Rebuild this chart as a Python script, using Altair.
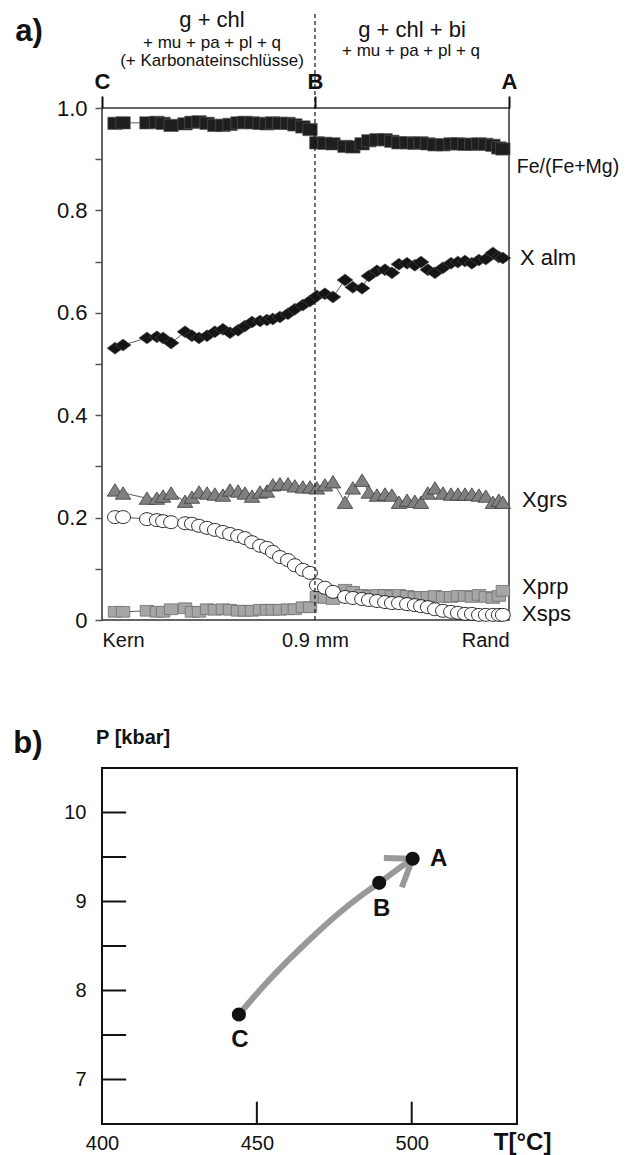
import altair as alt
import pandas as pd

FONT = "Liberation Sans, Arial, Helvetica, sans-serif"

# ---------------- panel a: zoning profile (distance in µm from core) -------------
pos_um = [55, 89, 190, 232, 258, 292, 351, 380, 410, 444, 477, 511, 541, 575, 604,
          634, 668, 697, 722, 752, 786, 815, 849, 879, 908, 942, 976, 1027, 1060, 1099,
          1128, 1162, 1196, 1225, 1255, 1289, 1322, 1348, 1377, 1407, 1441, 1475, 1504,
          1534, 1563, 1593, 1622, 1652, 1677, 1694]

fe_mg = [0.970, 0.971, 0.971, 0.972, 0.970, 0.966, 0.969, 0.972, 0.973, 0.970, 0.966, 0.966,
         0.968, 0.971, 0.972, 0.971, 0.970, 0.969, 0.971, 0.970, 0.970, 0.967, 0.963, 0.958,
         0.932, 0.931, 0.930, 0.925, 0.924, 0.930, 0.936, 0.938, 0.938, 0.935, 0.932, 0.932,
         0.931, 0.932, 0.930, 0.928, 0.928, 0.930, 0.930, 0.929, 0.929, 0.930, 0.929, 0.927,
         0.922, 0.920]
x_alm = [0.531, 0.537, 0.551, 0.553, 0.551, 0.541, 0.563, 0.555, 0.551, 0.555, 0.563, 0.568,
         0.561, 0.566, 0.574, 0.582, 0.584, 0.586, 0.588, 0.592, 0.598, 0.607, 0.615, 0.623,
         0.633, 0.637, 0.631, 0.664, 0.650, 0.648, 0.672, 0.682, 0.684, 0.678, 0.695, 0.697,
         0.693, 0.699, 0.684, 0.678, 0.688, 0.697, 0.699, 0.701, 0.697, 0.703, 0.705, 0.717,
         0.709, 0.707]
x_grs = [0.254, 0.248, 0.238, 0.238, 0.242, 0.248, 0.232, 0.240, 0.250, 0.248, 0.246, 0.244,
         0.254, 0.252, 0.248, 0.242, 0.250, 0.252, 0.264, 0.266, 0.266, 0.262, 0.260, 0.260,
         0.258, 0.264, 0.270, 0.230, 0.258, 0.273, 0.250, 0.244, 0.246, 0.244, 0.230, 0.234,
         0.232, 0.230, 0.248, 0.258, 0.248, 0.246, 0.246, 0.246, 0.246, 0.244, 0.242, 0.230,
         0.234, 0.230]
x_prp = [0.016, 0.016, 0.018, 0.016, 0.016, 0.021, 0.023, 0.016, 0.016, 0.021, 0.020, 0.021,
         0.020, 0.018, 0.018, 0.018, 0.020, 0.020, 0.020, 0.020, 0.021, 0.021, 0.025, 0.025,
         0.045, 0.043, 0.041, 0.059, 0.055, 0.049, 0.047, 0.049, 0.049, 0.047, 0.049, 0.047,
         0.045, 0.045, 0.045, 0.047, 0.045, 0.045, 0.047, 0.047, 0.045, 0.049, 0.045, 0.043,
         0.047, 0.057]
x_sps = [0.201, 0.201, 0.197, 0.195, 0.193, 0.191, 0.189, 0.188, 0.184, 0.180, 0.176, 0.172,
         0.168, 0.164, 0.160, 0.152, 0.145, 0.141, 0.133, 0.123, 0.117, 0.107, 0.098, 0.092,
         0.068, 0.063, 0.055, 0.045, 0.043, 0.041, 0.039, 0.037, 0.035, 0.033, 0.033, 0.031,
         0.029, 0.027, 0.025, 0.021, 0.018, 0.016, 0.014, 0.012, 0.012, 0.010, 0.010, 0.010,
         0.010, 0.010]

series_names = ["Fe/(Fe+Mg)", "X alm", "Xgrs", "Xprp", "Xsps"]
series_vals = [fe_mg, x_alm, x_grs, x_prp, x_sps]

top_ticks = [0, 900, 1720]
y_ticks = [0, 0.1, 0.2, 0.3, 0.4, 0.5, 0.6, 0.7, 0.8, 0.9, 1.0]

header_text = ["g + chl", "+ mu + pa + pl + q", "(+ Karbonateinschlüsse)",
               "g + chl + bi", "+ mu + pa + pl + q"]
header_x = [465, 465, 465, 1310, 1306]
header_y = [1.172, 1.127, 1.092, 1.152, 1.111]
header_fs = [22, 17, 17, 22, 17]

label_x = [1753, 1766, 1775, 1775, 1775]
label_y = [0.885, 0.707, 0.234, 0.064, 0.012]
label_fs = [19.5, 22, 22, 22, 22]

rows = []
for name, vals in zip(series_names, series_vals):
    for i, (p, v) in enumerate(zip(pos_um, vals)):
        rows.append({"series": name, "i": i, "pos": p, "val": v})
df = pd.DataFrame(rows)

XS = alt.Scale(domain=[0, 1720], nice=False, zero=False)
YS = alt.Scale(domain=[0, 1.0], nice=False, zero=False)

RECT_FE = "M-1,-0.85L1,-0.85L1,0.85L-1,0.85Z"
RECT = "M-1,-0.8L1,-0.8L1,0.8L-1,0.8Z"
DIAM = "M-1,0L0,-0.75L1,0L0,0.75Z"
TRI = "M0,-0.8L1,0.8L-1,0.8Z"
ELL = "M-1,0A1,0.87,0,1,1,1,0A1,0.87,0,1,1,-1,0Z"

styles = {
    "Fe/(Fe+Mg)": dict(shape=RECT_FE, size=210, fill="#1e1e1e", stroke="#5a5a5a", strokeWidth=0.6),
    "X alm": dict(shape=DIAM, size=256, fill="#151515", stroke="#555555", strokeWidth=0.5),
    "Xgrs": dict(shape=TRI, size=240, fill="#808080", stroke="#3c3c3c", strokeWidth=0.8),
    "Xprp": dict(shape=RECT, size=180, fill="#a6a6a6", stroke="#6e6e6e", strokeWidth=0.8),
    "Xsps": dict(shape=ELL, size=220, fill="#ffffff", stroke="#111111", strokeWidth=0.9),
}

y_label_expr = ("datum.value == 0 ? '0' : (round(datum.value*10) % 2 == 0 ? "
                "format(datum.value, '.1f') : '')")
bottom_expr = "datum.value == 0 ? 'Kern' : (datum.value == 900 ? '0.9 mm' : 'Rand')"
top_expr = "datum.value == 0 ? 'C' : (datum.value == 900 ? 'B' : 'A')"

lines = alt.Chart(df).mark_line(color="#333333", strokeWidth=0.8).encode(
    x=alt.X("pos:Q", scale=XS, axis=alt.Axis(
        orient="bottom", values=top_ticks, labelExpr=bottom_expr, labelFlush=True,
        ticks=False, domain=False, labelFontSize=20, labelPadding=10, labelColor="#111",
        labelFont=FONT, title=None, grid=False)),
    y=alt.Y("val:Q", scale=YS, axis=alt.Axis(
        orient="left", values=y_ticks, labelExpr=y_label_expr, tickSize=7, tickColor="#555",
        tickWidth=1.5, labelPadding=8, labelFontSize=22, domain=False, title=None,
        labelFont=FONT, labelColor="#111", grid=False)),
    detail="series:N",
    order="i:Q",
)

point_layers = []
for k, name in enumerate(series_names):
    st = styles[name]
    if k == 0:
        xax = alt.Axis(orient="top", values=top_ticks, labelExpr=top_expr, labelFlush=False,
                       labelFontWeight="bold", labelFontSize=22, labelFont=FONT,
                       labelColor="#111", tickSize=12, tickWidth=2, tickColor="#111",
                       domain=False, labelPadding=3, title=None, grid=False)
    else:
        xax = None
    pl = alt.Chart(df[df.series == name]).mark_point(
        filled=True, opacity=1, shape=st["shape"], size=st["size"], fill=st["fill"],
        stroke=st["stroke"], strokeWidth=st["strokeWidth"], strokeOpacity=1, fillOpacity=1
    ).encode(
        x=alt.X("pos:Q", scale=XS, axis=xax),
        y=alt.Y("val:Q", scale=YS, axis=None),
    )
    point_layers.append(pl)

rule_df = pd.DataFrame({"b": [900], "y0": [0.0], "y1": [1.187]})
rule = alt.Chart(rule_df).mark_rule(strokeDash=[4, 3], color="#111", strokeWidth=1.2).encode(
    x=alt.X("b:Q", scale=XS, axis=None),
    y=alt.Y("y0:Q", scale=YS, axis=None),
    y2="y1:Q",
)

hdr_df = pd.DataFrame({"t": header_text, "x": header_x, "y": header_y, "fs": header_fs})
headers = alt.Chart(hdr_df).mark_text(font=FONT, color="#111", align="center",
                                      baseline="middle").encode(
    x=alt.X("x:Q", scale=XS, axis=None),
    y=alt.Y("y:Q", scale=YS, axis=None),
    text="t:N",
    size=alt.Size("fs:Q", scale=None),
)

lab_df = pd.DataFrame({"t": series_names, "x": label_x, "y": label_y, "fs": label_fs})
labels = alt.Chart(lab_df).mark_text(font=FONT, color="#111", align="left",
                                     baseline="middle").encode(
    x=alt.X("x:Q", scale=XS, axis=None),
    y=alt.Y("y:Q", scale=YS, axis=None),
    text="t:N",
    size=alt.Size("fs:Q", scale=None),
)

tag_a = alt.Chart(pd.DataFrame({"t": ["a)"], "x": [-308], "y": [1.148]})).mark_text(
    font=FONT, fontWeight="bold", fontSize=31, color="#111", align="center", baseline="middle"
).encode(
    x=alt.X("x:Q", scale=XS, axis=None),
    y=alt.Y("y:Q", scale=YS, axis=None),
    text="t:N",
)

panel_a = alt.layer(lines, *point_layers, rule, headers, labels, tag_a).resolve_axis(
    x="independent", y="independent"
).properties(width=407, height=512,
             view=alt.ViewBackground(stroke="#333333", strokeWidth=1.5))

# ---------------- panel b: P-T path -------------
path_T = [444.2, 452.2, 460.2, 468.2, 476.2, 484.2, 489.5, 495.0, 500.3]
path_P = [7.73, 8.05, 8.34, 8.61, 8.86, 9.08, 9.21, 9.35, 9.48]
arrow_seg = [1, 1, 2, 2]
arrow_T = [500.3, 491.0, 500.3, 496.8]
arrow_P = [9.48, 9.49, 9.48, 9.16]
stage = ["C", "B", "A"]
stage_T = [444.2, 489.5, 500.3]
stage_P = [7.73, 9.21, 9.48]
stage_lab_T = [444.5, 490.3, 508.7]
stage_lab_P = [7.44, 8.92, 9.48]
p_ticks = [7, 7.5, 8, 8.5, 9, 9.5, 10]
p_labels = [7, 8, 9, 10]
t_ticks = [450, 500]
t_labels = [400, 450, 500]

XB = alt.Scale(domain=[400, 534], nice=False, zero=False)
YB = alt.Scale(domain=[6.5, 10.5], nice=False, zero=False)

path_df = pd.DataFrame({"T": path_T, "P": path_P, "o": list(range(len(path_T)))})
curve = alt.Chart(path_df).mark_line(interpolate="monotone", color="#999999",
                                     strokeWidth=6).encode(
    x=alt.X("T:Q", scale=XB, axis=alt.Axis(
        orient="bottom", values=t_labels, ticks=False, domain=False, labelFontSize=20,
        labelPadding=9, labelFlush=False, labelFont=FONT, labelColor="#111", title=None,
        grid=False)),
    y=alt.Y("P:Q", scale=YB, axis=alt.Axis(
        orient="left", values=p_labels, ticks=False, domain=False, labelFontSize=20,
        labelPadding=16, labelFont=FONT, labelColor="#111", title=None, grid=False)),
    order="o:Q",
)

arrow_df = pd.DataFrame({"seg": arrow_seg, "T": arrow_T, "P": arrow_P})
arrow = alt.Chart(arrow_df).mark_line(color="#999999", strokeWidth=6).encode(
    x=alt.X("T:Q", scale=XB, axis=None),
    y=alt.Y("P:Q", scale=YB, axis=None),
    detail="seg:N",
)

ytick_df = pd.DataFrame({"P": p_ticks, "x0": [400] * len(p_ticks), "x1": [407.8] * len(p_ticks)})
yticks = alt.Chart(ytick_df).mark_rule(color="#111", strokeWidth=2).encode(
    x=alt.X("x0:Q", scale=XB, axis=None), x2="x1:Q",
    y=alt.Y("P:Q", scale=YB, axis=None),
)
xtick_df = pd.DataFrame({"T": t_ticks, "y0": [6.5] * len(t_ticks), "y1": [6.75] * len(t_ticks)})
xticks = alt.Chart(xtick_df).mark_rule(color="#111", strokeWidth=2).encode(
    x=alt.X("T:Q", scale=XB, axis=None),
    y=alt.Y("y0:Q", scale=YB, axis=None), y2="y1:Q",
)

dots = alt.Chart(pd.DataFrame({"T": stage_T, "P": stage_P})).mark_circle(
    size=200, color="#111", opacity=1).encode(
    x=alt.X("T:Q", scale=XB, axis=None),
    y=alt.Y("P:Q", scale=YB, axis=None),
)
dot_labels = alt.Chart(pd.DataFrame({"t": stage, "T": stage_lab_T, "P": stage_lab_P})).mark_text(
    font=FONT, fontWeight="bold", fontSize=24, color="#111", align="center", baseline="middle"
).encode(
    x=alt.X("T:Q", scale=XB, axis=None),
    y=alt.Y("P:Q", scale=YB, axis=None),
    text="t:N",
)

ptitle = alt.Chart(pd.DataFrame({"t": ["P [kbar]"], "T": [398.1], "P": [10.84]})).mark_text(
    font=FONT, fontWeight="bold", fontSize=20, color="#111", align="left", baseline="middle"
).encode(x=alt.X("T:Q", scale=XB, axis=None), y=alt.Y("P:Q", scale=YB, axis=None), text="t:N")
ttitle = alt.Chart(pd.DataFrame({"t": ["T[°C]"], "T": [535.8], "P": [6.29]})).mark_text(
    font=FONT, fontWeight="bold", fontSize=24, color="#111", align="center", baseline="middle"
).encode(x=alt.X("T:Q", scale=XB, axis=None), y=alt.Y("P:Q", scale=YB, axis=None), text="t:N")
tag_b = alt.Chart(pd.DataFrame({"t": ["b)"], "T": [376.1], "P": [10.77]})).mark_text(
    font=FONT, fontWeight="bold", fontSize=31, color="#111", align="center", baseline="middle"
).encode(x=alt.X("T:Q", scale=XB, axis=None), y=alt.Y("P:Q", scale=YB, axis=None), text="t:N")

panel_b = alt.layer(curve, arrow, yticks, xticks, dots, dot_labels, ptitle, ttitle, tag_b).resolve_axis(
    x="independent", y="independent"
).properties(width=415, height=356,
             view=alt.ViewBackground(stroke="#111111", strokeWidth=2))

chart = alt.vconcat(panel_a, panel_b, spacing=75).properties(
    padding={"left": 4, "top": 0, "right": 0, "bottom": 0},
    background="white",
).configure_axis(grid=False)

chart.save("out.html", embed_options={"renderer": "svg", "actions": False})
